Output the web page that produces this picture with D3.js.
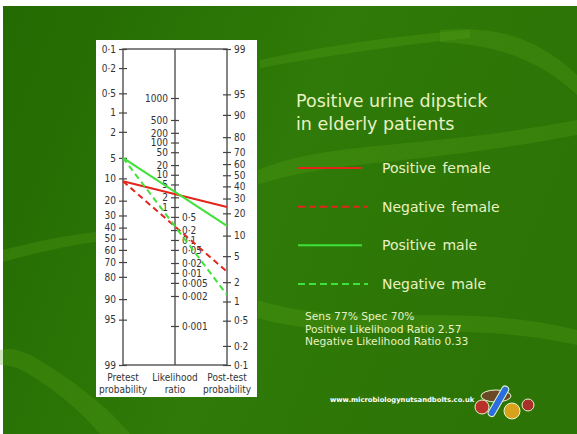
<!DOCTYPE html>
<meta charset="utf-8">
<style>
body { margin: 0; background: #fff; }
svg { display: block; }
.nomo text { font-family: "Liberation Sans Narrow", "DejaVu Sans Condensed", sans-serif; font-size: 10px; fill: #333; }
.nomo .domain { display: none; }
.nomo .tick line { stroke: #444; stroke-width: 1.2px; }
.frame { stroke: #444; stroke-width: 1.3px; fill: none; }
.slide text { font-family: "DejaVu Sans", Verdana, sans-serif; fill: #e8f2c4; }
</style>
<svg width="577" height="434"></svg>
<script src="https://d3js.org/d3.v7.min.js"></script>
<script>

// tick values for the three axes of the Fagan nomogram
var pretestTicks = [0.1, 0.2, 0.5, 1, 2, 5, 10, 20, 30, 40, 50, 60, 70, 80, 90, 95, 99];
var lrTicksHigh = [1000, 500, 200, 100, 50, 20, 10, 5, 2, 1];
var lrTicksLow = [0.5, 0.2, 0.1, 0.05, 0.02, 0.01, 0.005, 0.002, 0.001];
var posttestTicks = [99, 95, 90, 80, 70, 60, 50, 40, 30, 20, 10, 5, 2, 1, 0.5, 0.2, 0.1];

// the four lines (%)
var seriesNames = ["Positive female", "Negative female", "Positive male", "Negative male"];
var pretest = [11, 11, 5, 5];
var posttest = [24, 2.9, 13.7, 1.27];
var seriesColors = ["#e3261c", "#e3261c", "#3fe23a", "#3fe23a"];
var seriesDashed = [false, true, false, true];

var statsLines = ["Sens 77% Spec 70%", "Positive Likelihood Ratio 2.57", "Negative Likelihood Ratio 0.33"];

var svg = d3.select("svg"),
    width = +svg.attr("width"),
    height = +svg.attr("height");

function logit(p) { return Math.log(p / (100 - p)); }
function fmt(d) { return String(d).replace(".", "\u00b7"); }

// ---- background ----
var defs = svg.append("defs");
var grad = defs.append("linearGradient").attr("id", "bg")
    .attr("x1", 0).attr("y1", 0).attr("x2", 1).attr("y2", 0.3);
grad.append("stop").attr("offset", "0%").attr("stop-color", "#236a02");
grad.append("stop").attr("offset", "55%").attr("stop-color", "#2f7a08");
grad.append("stop").attr("offset", "100%").attr("stop-color", "#2c7406");

var slide = svg.append("g").attr("class", "slide");
slide.append("rect").attr("x", 3).attr("y", 6).attr("width", width - 3).attr("height", height - 6)
    .attr("fill", "url(#bg)");

// soft light waves
var waves = [
  "M440,30 C500,25 540,40 577,75 L577,95 C545,65 505,45 440,42 Z",
  "M0,350 C20,345 40,360 70,380 C90,395 110,410 130,434 L100,434 C80,410 55,390 30,375 C20,368 10,365 0,365 Z",
  "M260,60 C330,45 400,35 470,30 L470,38 C400,45 330,55 260,68 Z",
  "M258,170 C330,140 420,150 577,120 L577,135 C420,165 330,160 258,185 Z",
  "M3,250 C40,240 70,235 96,232 L96,242 C70,245 40,252 3,262 Z",
  "M258,300 C350,330 460,300 577,330 L577,345 C460,318 350,345 258,318 Z"
];
slide.selectAll("path.wave").data(waves).enter().append("path")
    .attr("class", "wave")
    .attr("d", function(d) { return d; })
    .attr("fill", "#5aa51a")
    .attr("opacity", 0.28);

// ---- nomogram panel ----
svg.append("rect").attr("x", 96).attr("y", 40).attr("width", 161).attr("height", 357)
    .attr("fill", "#fff");

var yTop = 49, yBottom = 365;
var x = d3.scalePoint().domain(["pre", "lr", "post"]).range([123, 227]);

var yPre = d3.scaleLinear().domain([logit(0.1), logit(99)]).range([yTop, yBottom]);
var yPost = d3.scaleLinear().domain([logit(99), logit(0.1)]).range([yTop, yBottom]);
// LR axis of the printed nomogram is not evenly spaced at its ends,
// so follow it with a piecewise log scale
var yLR = d3.scaleLog().domain([0.001, 0.002, 1, 500, 1000])
    .range([326, 296, 207, 120, 98]);

var nomo = svg.append("g").attr("class", "nomo");

nomo.append("rect").attr("class", "frame")
    .attr("x", x("pre")).attr("y", yTop)
    .attr("width", x("post") - x("pre")).attr("height", yBottom - yTop);
nomo.append("line").attr("class", "frame")
    .attr("x1", x("lr")).attr("x2", x("lr")).attr("y1", yTop).attr("y2", yBottom);

function crossTicks(g, dir) {
  g.selectAll(".tick line").attr("x1", 4 * dir).attr("x2", -4 * dir);
}

nomo.append("g").attr("transform", "translate(" + x("pre") + ",0)")
    .call(d3.axisLeft(yPre).tickValues(pretestTicks.map(logit)).tickSize(4).tickPadding(3)
      .tickFormat(function(d, i) { return fmt(pretestTicks[i]); }))
    .call(crossTicks, 1);

nomo.append("g").attr("transform", "translate(" + x("lr") + ",0)")
    .call(d3.axisLeft(yLR).tickValues(lrTicksHigh).tickSize(4).tickPadding(3).tickFormat(fmt))
    .call(crossTicks, 1);

nomo.append("g").attr("transform", "translate(" + x("lr") + ",0)")
    .call(d3.axisRight(yLR).tickValues(lrTicksLow).tickSize(4).tickPadding(3).tickFormat(fmt))
    .call(crossTicks, -1);

nomo.append("g").attr("transform", "translate(" + x("post") + ",0)")
    .call(d3.axisRight(yPost).tickValues(posttestTicks.map(logit)).tickSize(4).tickPadding(3)
      .tickFormat(function(d, i) { return fmt(posttestTicks[i]); }))
    .call(crossTicks, -1);

// axis titles
var titles = [["pre", "Pretest", "probability"], ["lr", "Likelihood", "ratio"], ["post", "Post-test", "probability"]];
titles.forEach(function(t) {
  var tx = nomo.append("text").attr("text-anchor", "middle").attr("x", x(t[0]));
  tx.append("tspan").attr("x", x(t[0])).attr("y", 381).text(t[1]);
  tx.append("tspan").attr("x", x(t[0])).attr("y", 393).text(t[2]);
});

// the four probability lines
nomo.selectAll("line.series").data(seriesNames).enter().append("line")
    .attr("class", "series")
    .attr("x1", x("pre")).attr("y1", function(d, i) { return yPre(logit(pretest[i])); })
    .attr("x2", x("post")).attr("y2", function(d, i) { return yPost(logit(posttest[i])); })
    .attr("stroke", function(d, i) { return seriesColors[i]; })
    .attr("stroke-width", 2)
    .attr("stroke-dasharray", function(d, i) { return seriesDashed[i] ? "6,4" : null; });

// ---- title, legend, notes ----
slide.append("text").attr("x", 296).attr("y", 107).attr("font-size", 17.5).text("Positive urine dipstick");
slide.append("text").attr("x", 296).attr("y", 130).attr("font-size", 17.5).text("in elderly patients");

var legendY = d3.scalePoint().domain(seriesNames).range([168, 284]);
var legend = slide.selectAll("g.legend").data(seriesNames).enter().append("g")
    .attr("class", "legend")
    .attr("transform", function(d) { return "translate(0," + legendY(d) + ")"; });
legend.append("line")
    .attr("x1", 298).attr("x2", function(d, i) { return seriesDashed[i] ? 368 : 362; })
    .attr("y1", 0).attr("y2", 0)
    .attr("stroke", function(d, i) { return seriesColors[i]; })
    .attr("stroke-width", 2)
    .attr("stroke-dasharray", function(d, i) { return seriesDashed[i] ? "7,4" : null; });
legend.append("text").attr("x", 382).attr("y", 5).attr("font-size", 14)
    .attr("word-spacing", 2).text(function(d) { return d; });

slide.selectAll("text.stats").data(statsLines).enter().append("text")
    .attr("class", "stats")
    .attr("x", 305).attr("y", function(d, i) { return 320 + i * 12.5; })
    .attr("font-size", 10.7).text(function(d) { return d; });

slide.append("text").attr("x", 330).attr("y", 402).attr("font-size", 6.8)
    .attr("font-weight", "bold").style("fill", "#fff")
    .text("www.microbiologynutsandbolts.co.uk");

// little logo blobs
var logo = slide.append("g").attr("stroke", "#e8f5d0").attr("stroke-width", 1);
logo.append("ellipse").attr("cx", 496).attr("cy", 396).attr("rx", 15).attr("ry", 6).attr("fill", "#6a4a26");
logo.append("circle").attr("cx", 482).attr("cy", 407).attr("r", 7).attr("fill", "#b8322a");
logo.append("circle").attr("cx", 512).attr("cy", 411).attr("r", 8).attr("fill", "#d9a21c");
logo.append("circle").attr("cx", 528).attr("cy", 405).attr("r", 6).attr("fill", "#a8302a");
logo.append("rect").attr("x", 495).attr("y", 384).attr("width", 7).attr("height", 34).attr("rx", 3.5)
    .attr("fill", "#2a6ee0").attr("transform", "rotate(30,498,401)");

</script>
